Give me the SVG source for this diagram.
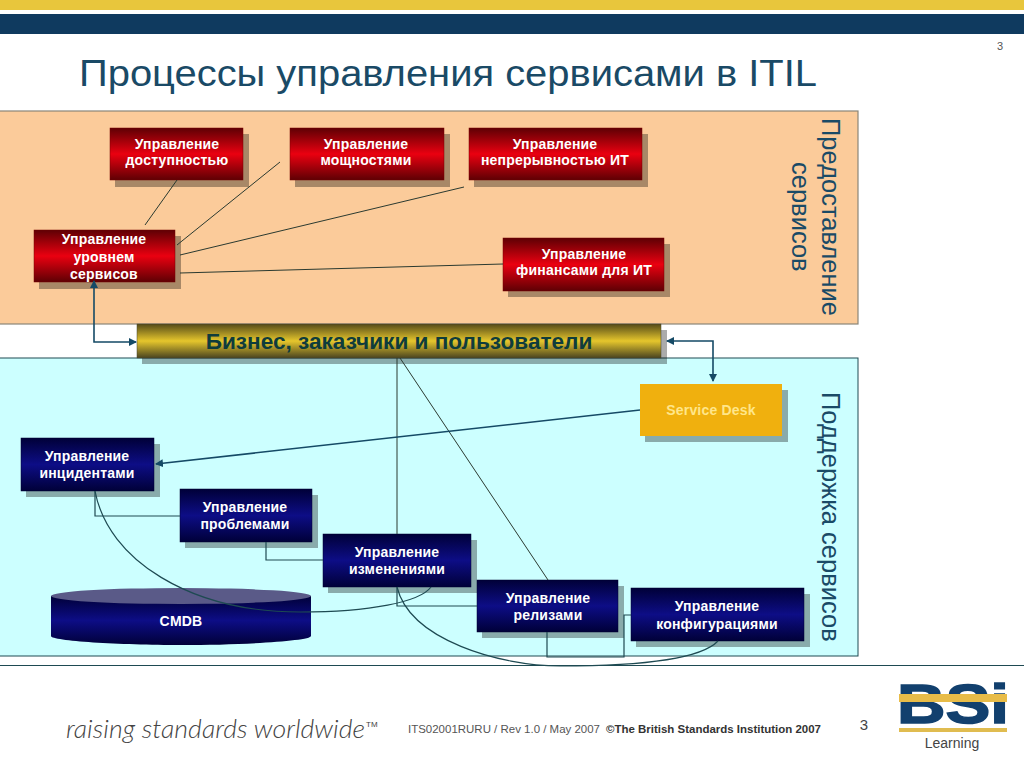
<svg xmlns="http://www.w3.org/2000/svg" width="1024" height="768" viewBox="0 0 1024 768">
<style>
text{font-family:"Liberation Sans",Arial,sans-serif}
.lbl{font-weight:bold;font-size:14px;fill:#fff;text-anchor:middle;letter-spacing:.2px}
.sh{fill:#000;opacity:.33}
.red{fill:url(#gr);stroke:#700;stroke-width:.5}
.navy{fill:url(#gn);stroke:#003;stroke-width:.5}
.side{font-size:25.500px;fill:#1a4a66}
.c{fill:none;stroke:#2a3a30;stroke-width:1}
.t{fill:none;stroke:#1e4a52;stroke-width:1.2}
.a{fill:none;stroke:#154a66;stroke-width:1.6;marker-end:url(#ah)}
</style>
<defs>
<linearGradient id="gr" x1="0" y1="0" x2="0" y2="1"><stop offset="0" stop-color="#5e0004"/><stop offset=".5" stop-color="#ea0010"/><stop offset="1" stop-color="#5e0004"/></linearGradient>
<linearGradient id="gn" x1="0" y1="0" x2="0" y2="1"><stop offset="0" stop-color="#000038"/><stop offset=".5" stop-color="#0d0d86"/><stop offset="1" stop-color="#000038"/></linearGradient>
<linearGradient id="gy" x1="0" y1="0" x2="0" y2="1"><stop offset="0" stop-color="#544a18"/><stop offset=".5" stop-color="#e6c62c"/><stop offset="1" stop-color="#4a4420"/></linearGradient>
<marker id="ah" markerWidth="9" markerHeight="9" refX="7" refY="4" orient="auto-start-reverse" markerUnits="userSpaceOnUse"><path d="M0,0L8,4L0,8z" fill="#154a66"/></marker>
</defs>
<rect width="1024" height="768" fill="#fff"/>
<g id="header">
<rect width="1024" height="10" fill="#e8c63c"/>
<rect y="14" width="1024" height="20" fill="#0f3a5f"/>
<text x="1000" y="50" font-size="11" fill="#555" text-anchor="middle">3</text>
<text x="79" y="86" font-size="37" fill="#1a4a66" textLength="738" lengthAdjust="spacingAndGlyphs">Процессы управления сервисами в ITIL</text>
</g>
<g id="panel-delivery">
<rect x="-1" y="111" width="859" height="213" fill="#fbcb9a" stroke="#8a8578" stroke-width="1.2"/>
<text class="side" transform="translate(822 118) rotate(90)">Предоставление</text>
<text class="side" transform="translate(792 162) rotate(90)">сервисов</text>
</g>
<g id="panel-support">
<rect x="-1" y="358" width="859" height="298" fill="#ccffff" stroke="#1e4a52" stroke-width="1"/>
<text class="side" transform="translate(822 392) rotate(90)">Поддержка сервисов</text>
</g>
<line x1="0" y1="665.500" x2="1024" y2="665.500" stroke="#1e4a52" stroke-width="1"/>
<g id="n-avail"><rect class="sh" x="115" y="134" width="134" height="53"/><rect class="red" x="110" y="128" width="133" height="52"/><text class="lbl" x="177" y="149">Управление</text><text class="lbl" x="177" y="165">доступностью</text></g>
<g id="n-cap"><rect class="sh" x="295" y="134" width="155" height="53"/><rect class="red" x="290" y="128" width="154" height="52"/><text class="lbl" x="366" y="149">Управление</text><text class="lbl" x="366" y="165">мощностями</text></g>
<g id="n-cont"><rect class="sh" x="474" y="134" width="174" height="53"/><rect class="red" x="469" y="128" width="173" height="52"/><text class="lbl" x="555" y="149">Управление</text><text class="lbl" x="555" y="165">непрерывностью ИТ</text></g>
<g id="n-slm"><rect class="sh" x="39" y="236" width="142" height="53"/><rect class="red" x="34" y="230" width="141" height="52"/><text class="lbl" x="104" y="244">Управление</text><text class="lbl" x="104" y="262">уровнем</text><text class="lbl" x="104" y="279">сервисов</text></g>
<g id="n-fin"><rect class="sh" x="508" y="244" width="162" height="53"/><rect class="red" x="503" y="238" width="161" height="53"/><text class="lbl" x="584" y="259">Управление</text><text class="lbl" x="584" y="275">финансами для ИТ</text></g>
<g id="n-biz"><rect class="sh" x="142" y="330" width="525" height="34"/><rect x="137" y="324" width="524" height="34" fill="url(#gy)" stroke="#443" stroke-width=".5"/><text x="399" y="349" font-size="22.600" font-weight="bold" fill="#0f3c3c" text-anchor="middle">Бизнес, заказчики и пользователи</text></g>
<g id="n-sd"><rect class="sh" x="645" y="390" width="143" height="52"/><rect x="640" y="384" width="142" height="52" fill="#f0b00e"/><text class="lbl" x="711" y="415" style="fill:#ffe68a">Service Desk</text></g>
<g id="n-inc"><rect class="sh" x="26" y="444" width="134" height="53"/><rect class="navy" x="21" y="438" width="133" height="53"/><text class="lbl" x="87" y="461">Управление</text><text class="lbl" x="87" y="478">инцидентами</text></g>
<g id="n-prob"><rect class="sh" x="185" y="495" width="133" height="53"/><rect class="navy" x="180" y="489" width="132" height="53"/><text class="lbl" x="245" y="512">Управление</text><text class="lbl" x="245" y="529">проблемами</text></g>
<g id="n-chg"><rect class="sh" x="328" y="540" width="149" height="53"/><rect class="navy" x="323" y="534" width="148" height="53"/><text class="lbl" x="397" y="557">Управление</text><text class="lbl" x="397" y="574">изменениями</text></g>
<g id="n-rel"><rect class="sh" x="482" y="586" width="142" height="52"/><rect class="navy" x="477" y="580" width="141" height="52"/><text class="lbl" x="548" y="603">Управление</text><text class="lbl" x="548" y="620">релизами</text></g>
<g id="n-cfg"><rect class="sh" x="636" y="594" width="174" height="53"/><rect class="navy" x="631" y="588" width="173" height="53"/><text class="lbl" x="717" y="611">Управление</text><text class="lbl" x="717" y="629">конфигурациями</text></g>
<g id="n-cmdb">
<path d="M51,596V636C51,641 120,645 181,645S311,641 311,636V596z" fill="url(#gn)"/>
<ellipse cx="181" cy="596" rx="130" ry="8" fill="#5a5a88"/>
<text class="lbl" x="181" y="626">CMDB</text>
</g>
<g id="connectors">
<path class="c" d="M145,225L177,180M177,245L280,162M180,255L464,187M180,273L503,264"/>
<path class="c" d="M397,358L397,534M400,358L548,580"/>
<path class="t" d="M95,491V516H180M266,542V560H323M397,587V606H477M547,632V657H624V615H631"/>
<path class="t" d="M95,491C108,560 190,612 300,612C370,612 420,602 431,587"/>
<path class="t" d="M397,587C410,640 500,666 560,666C640,666 700,660 718,641"/>
<path class="a" marker-start="url(#ah)" d="M94,281V342H136"/>
<path class="a" marker-start="url(#ah)" d="M667,341H713V381"/>
<path class="a" d="M640,410L156,464"/>
</g>
<g id="footer">
<text x="66" y="738" font-size="25" font-style="italic" style="font-family:Lato,'Open Sans',sans-serif;font-weight:300" fill="#444" textLength="299" lengthAdjust="spacingAndGlyphs">raising standards worldwide</text>
<text x="366" y="727" font-size="8" fill="#444">TM</text>
<text x="408" y="733" font-size="10.500" fill="#555" textLength="192" lengthAdjust="spacingAndGlyphs">ITS02001RURU / Rev 1.0 / May 2007</text>
<text x="606" y="733" font-size="10.500" font-weight="bold" fill="#333" textLength="215" lengthAdjust="spacingAndGlyphs">©The British Standards Institution 2007</text>
<text x="864" y="730" font-size="15" fill="#444" text-anchor="middle">3</text>
</g>
<g id="logo">
<text x="897" y="723" font-size="56" font-weight="bold" fill="#12406e" stroke="#12406e" stroke-width="1.500" textLength="112" lengthAdjust="spacingAndGlyphs">BSi</text>
<rect x="899" y="694" width="108" height="8" fill="#e8bc48"/>
<rect x="899" y="728" width="108" height="4" fill="#e0bc50"/>
<text x="952" y="748" font-size="14" fill="#444" text-anchor="middle">Learning</text>
</g>
</svg>
